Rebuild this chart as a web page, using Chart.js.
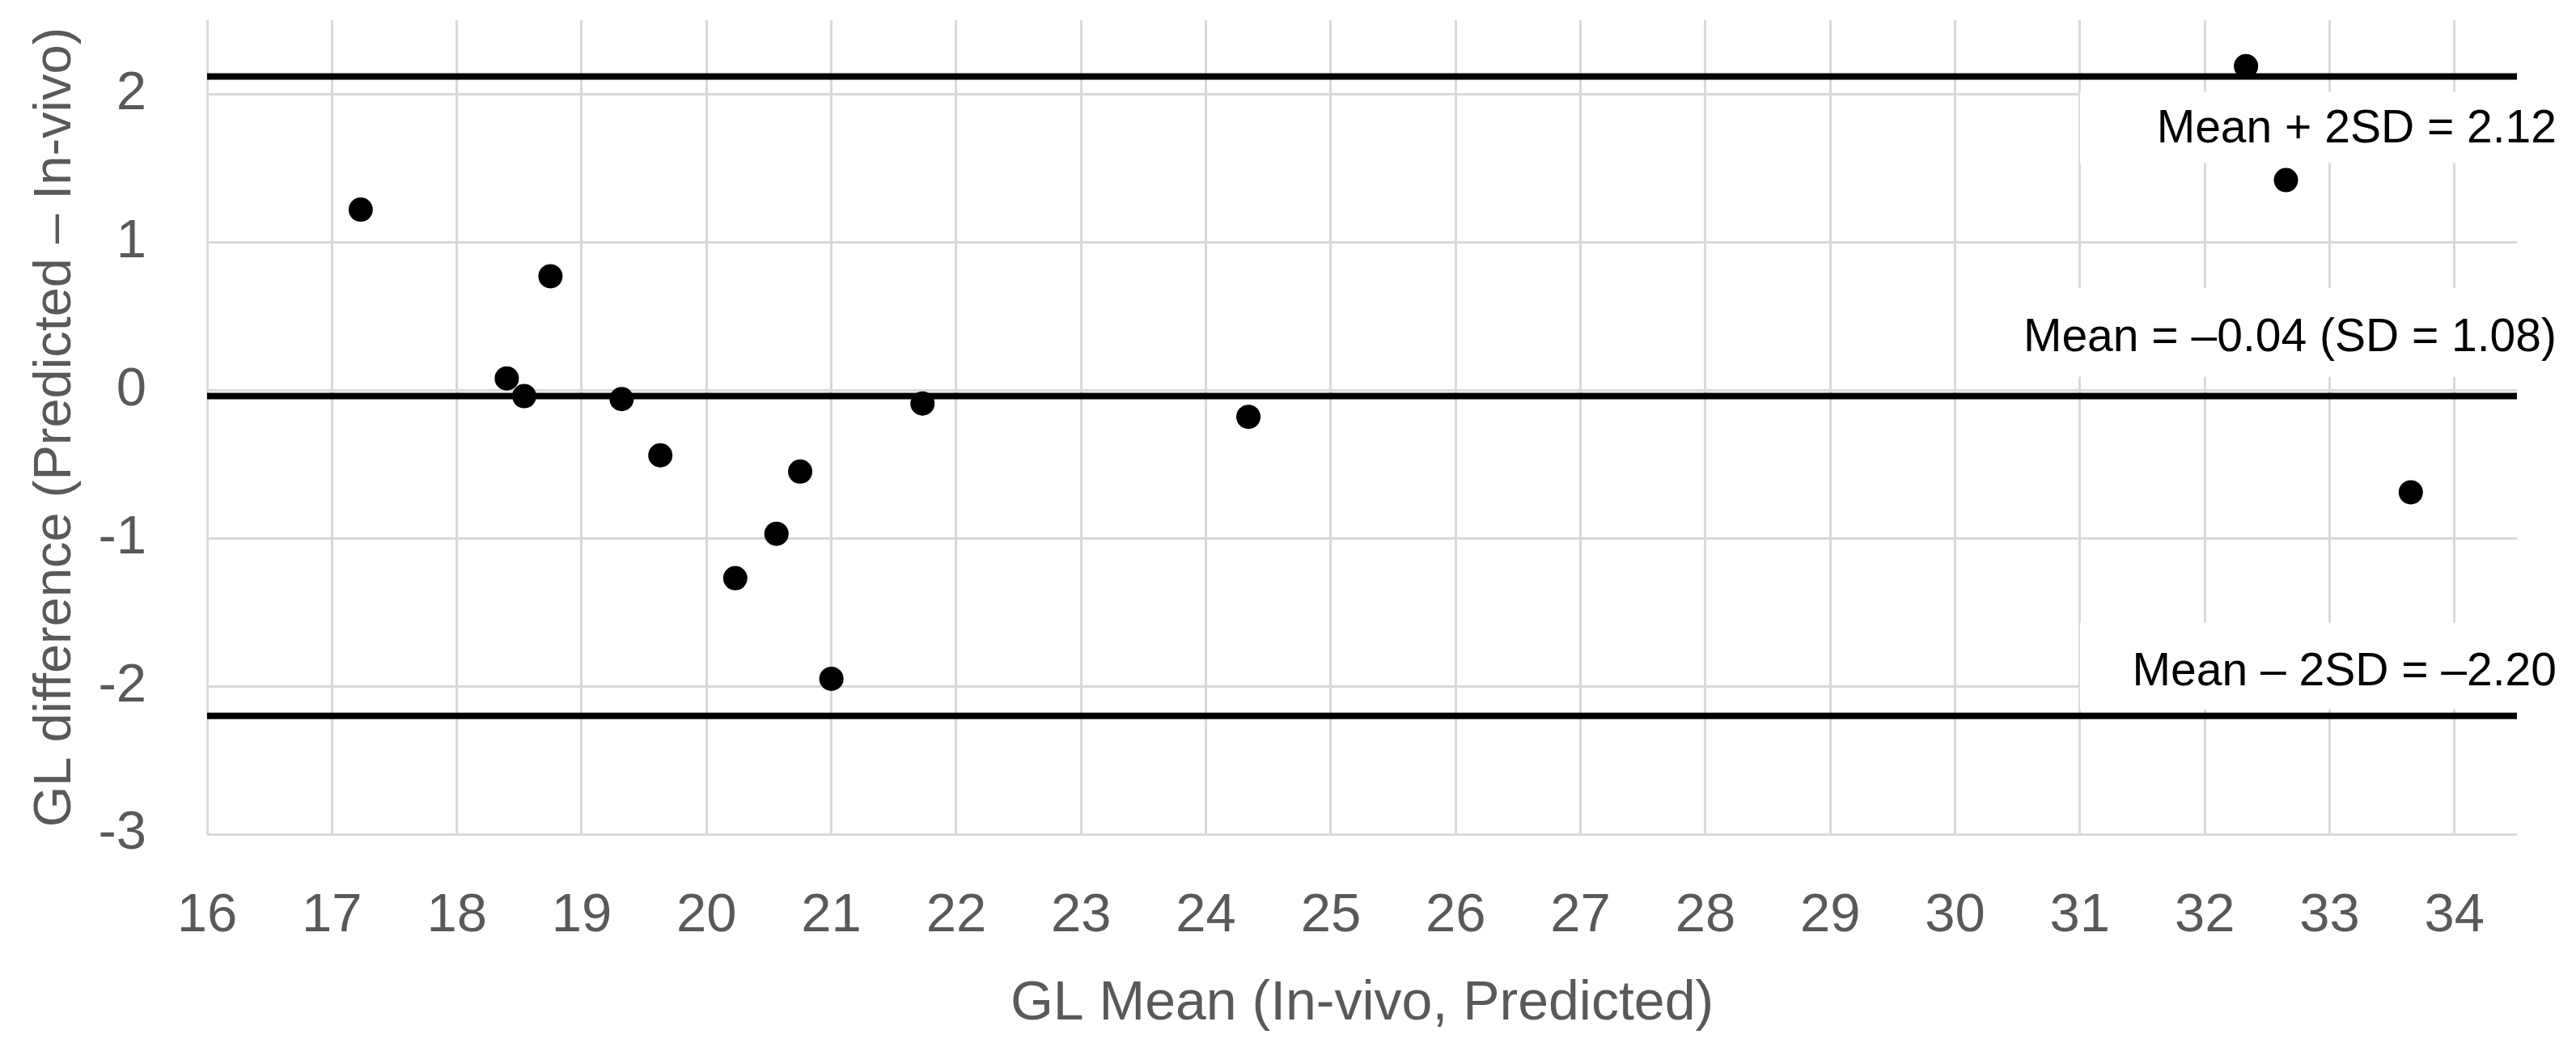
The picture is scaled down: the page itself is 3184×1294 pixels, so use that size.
<!DOCTYPE html>
<html>
<head>
<meta charset="utf-8">
<script src="https://cdn.jsdelivr.net/npm/chart.js@4.4.1/dist/chart.umd.min.js"></script>
<style>
  html, body { margin: 0; padding: 0; background: #ffffff; }
  #wrap { width: 3184px; height: 1294px; }
</style>
</head>
<body>
<div id="wrap"><canvas id="chart" width="3184" height="1294"></canvas></div>
<script>
// Bland-Altman points: mean of both methods vs. difference
const meanValues = [17.23, 18.40, 18.54, 18.75, 19.32, 19.63, 20.23, 20.56, 20.75, 21.00, 21.73, 24.34, 32.33, 32.65, 33.65];
const diffValues = [1.22, 0.08, -0.04, 0.77, -0.06, -0.44, -1.27, -0.97, -0.55, -1.95, -0.09, -0.18, 2.19, 1.42, -0.69];

// limits of agreement
const biasMean = -0.04;
const upperLimit = 2.12;
const lowerLimit = -2.20;
const limitLabels = ['Mean + 2SD = 2.12', 'Mean = \u20130.04 (SD = 1.08)', 'Mean \u2013 2SD = \u20132.20'];

// axes
const xRange = [16, 34.5];
const yRange = [-3, 2.5];
const xTicks = [16, 17, 18, 19, 20, 21, 22, 23, 24, 25, 26, 27, 28, 29, 30, 31, 32, 33, 34];
const yTicks = [-3, -2, -1, 0, 1, 2];
const xTitle = 'GL Mean (In-vivo, Predicted)';
const yTitle = 'GL difference (Predicted \u2013 In-vivo)';

const FONT = '"Liberation Sans", Arial, sans-serif';
const GRAY_TEXT = '#595959';
const GRID = '#d9d9d9';

function lineData(value) {
    return [{ x: xRange[0], y: value }, { x: xRange[1], y: value }];
}

// white boxes with the limit labels, drawn over the grid but under the lines
const limitLabelPlugin = {
    id: 'limitLabels',
    beforeDatasetsDraw(chart) {
        const { ctx, chartArea, scales } = chart;
        const x = scales.x, y = scales.y;
        const items = [
            { value: upperLimit, text: limitLabels[0], left: x.getPixelForValue(31), top: 19, bottom: 107, mid: 66 },
            { value: biasMean, text: limitLabels[1], left: x.getPixelForValue(30) + 25, top: -134, bottom: -24, mid: -71 },
            { value: lowerLimit, text: limitLabels[2], left: x.getPixelForValue(31), top: -115, bottom: -8, mid: -53 }
        ];
        ctx.save();
        items.forEach(item => {
            const py = y.getPixelForValue(item.value);
            ctx.fillStyle = '#ffffff';
            ctx.fillRect(item.left, py + item.top, chart.width - item.left, item.bottom - item.top);
            ctx.fillStyle = '#000000';
            ctx.font = '57px ' + FONT;
            ctx.textAlign = 'right';
            ctx.textBaseline = 'middle';
            ctx.fillText(item.text, chartArea.right + 49, py + item.mid);
        });
        ctx.restore();
    }
};

function limitLine(value) {
    return {
        type: 'line',
        data: lineData(value),
        borderColor: '#000000',
        borderWidth: 8,
        pointRadius: 0,
        order: 1
    };
}

function init() {
    const points = meanValues.map((m, i) => ({ x: m, y: diffValues[i] }));

    new Chart(document.getElementById('chart'), {
        type: 'scatter',
        data: {
            datasets: [
                {
                    data: points,
                    backgroundColor: '#000000',
                    borderColor: '#000000',
                    pointRadius: 15,
                    pointHoverRadius: 15,
                    borderWidth: 0,
                    order: 0
                },
                limitLine(upperLimit),
                limitLine(biasMean),
                limitLine(lowerLimit)
            ]
        },
        options: {
            responsive: false,
            animation: false,
            layout: { padding: { left: 0, right: 73, top: 25, bottom: 0 } },
            plugins: {
                legend: { display: false },
                tooltip: { enabled: false }
            },
            scales: {
                x: {
                    type: 'linear',
                    min: xRange[0],
                    max: xRange[1],
                    afterBuildTicks: s => { s.ticks = xTicks.map(v => ({ value: v })); },
                    afterFit: s => { s.height = 263; s.paddingLeft = 0; s.paddingRight = 0; },
                    ticks: {
                        padding: 61,
                        color: GRAY_TEXT,
                        font: { family: FONT, size: 67 },
                        maxRotation: 0,
                        autoSkip: false
                    },
                    grid: { color: GRID, lineWidth: 3, drawTicks: false },
                    border: { display: false },
                    title: {
                        display: true,
                        text: xTitle,
                        color: GRAY_TEXT,
                        font: { family: FONT, size: 68, lineHeight: 1 },
                        padding: { top: 0, bottom: 19 }
                    }
                },
                y: {
                    min: yRange[0],
                    max: yRange[1],
                    afterBuildTicks: s => { s.ticks = yTicks.map(v => ({ value: v })); },
                    afterFit: s => { s.width = 256; s.paddingTop = 0; s.paddingBottom = 0; },
                    ticks: {
                        padding: 75,
                        color: GRAY_TEXT,
                        font: { family: FONT, size: 67 }
                    },
                    grid: { color: GRID, lineWidth: 3, drawTicks: false },
                    border: { display: false },
                    title: {
                        display: true,
                        text: yTitle,
                        color: GRAY_TEXT,
                        font: { family: FONT, size: 65, lineHeight: 1 },
                        padding: { top: 37, bottom: 0 }
                    }
                }
            }
        },
        plugins: [limitLabelPlugin]
    });
}

document.addEventListener('DOMContentLoaded', init);
</script>
</body>
</html>
